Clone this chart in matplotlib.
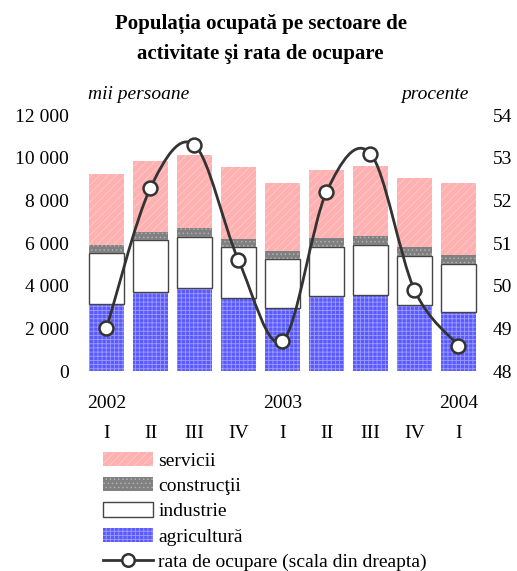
import matplotlib
matplotlib.use("Agg")
import matplotlib.pyplot as plt
from matplotlib.patches import Patch
from matplotlib.lines import Line2D
from matplotlib.path import Path
from matplotlib.patches import PathPatch
from matplotlib.ticker import FuncFormatter

plt.rcParams["font.family"] = ["Liberation Serif", "DejaVu Serif"]
plt.rcParams["hatch.linewidth"] = 0.6

# data (mii persoane, procente)
quarters = ["I", "II", "III", "IV", "I", "II", "III", "IV", "I"]
years = {0: "2002", 4: "2003", 8: "2004"}
agricultura = [3140, 3690, 3880, 3420, 2940, 3530, 3580, 3080, 2780]
industrie = [2390, 2440, 2390, 2380, 2330, 2270, 2330, 2330, 2250]
constructii = [380, 390, 430, 390, 360, 430, 420, 400, 410]
servicii = [3320, 3320, 3430, 3370, 3180, 3190, 3300, 3240, 3370]
rata = [49.0, 52.3, 53.3, 50.6, 48.7, 52.2, 53.1, 49.9, 48.6]

PINK = "#ffb0b0"
PINK_H = "#ffcccc"
GREY = "#808080"
GREY_H = "#b0b0b0"
BLUE = "#5a5aff"
BLUE_H = "#9c9cff"
LINE = "#333333"

H_AGR = "++++"
H_CON = "...."
H_SER = "////"


def fmt_thousands(x, pos):
    return f"{int(x):,}".replace(",", " ")


def smooth_path(xs, ys):
    # bezier like excel "smoothed line"
    verts = [(xs[0], ys[0])]
    codes = [Path.MOVETO]
    n = len(xs)
    for i in range(n - 1):
        x0, y0 = (xs[i - 1], ys[i - 1]) if i > 0 else (xs[i], ys[i])
        x1, y1 = xs[i], ys[i]
        x2, y2 = xs[i + 1], ys[i + 1]
        x3, y3 = (xs[i + 2], ys[i + 2]) if i + 2 < n else (x2, y2)
        c1 = (x1 + (x2 - x0) / 6, y1 + (y2 - y0) / 6)
        c2 = (x2 - (x3 - x1) / 6, y2 - (y3 - y1) / 6)
        verts += [c1, c2, (x2, y2)]
        codes += [Path.CURVE4] * 3
    return Path(verts, codes)


fig = plt.figure(figsize=(5.17, 5.71), dpi=100)
ax = fig.add_axes([0.1634, 0.350, 0.766, 0.4483])
ax2 = ax.twinx()

x = list(range(len(quarters)))
w = 0.8
b1 = agricultura
b2 = [a + b for a, b in zip(b1, industrie)]
b3 = [a + b for a, b in zip(b2, constructii)]

ax.bar(x, agricultura, w, color=BLUE, edgecolor=BLUE_H, hatch=H_AGR, linewidth=0)
ax.bar(x, industrie, w, bottom=b1, color="white", edgecolor="#444444", linewidth=1.0)
ax.bar(x, constructii, w, bottom=b2, color=GREY, edgecolor=GREY_H, hatch=H_CON, linewidth=0)
ax.bar(x, servicii, w, bottom=b3, color=PINK, edgecolor=PINK_H, hatch=H_SER, linewidth=0)

ax.set_xlim(-0.5, len(quarters) - 0.5)
ax.set_ylim(0, 12000)
ax.set_yticks(range(0, 12001, 2000))
ax.yaxis.set_major_formatter(FuncFormatter(fmt_thousands))
ax.set_xticks([])

ax2.add_patch(PathPatch(smooth_path(x, rata), facecolor="none", edgecolor=LINE, linewidth=2.0))
ax2.plot(x, rata, linestyle="none", marker="o", markersize=10,
         markerfacecolor="white", markeredgecolor=LINE, markeredgewidth=1.8)
ax2.set_ylim(48, 54)
ax2.set_yticks(range(48, 55))

for a in (ax, ax2):
    for s in a.spines.values():
        s.set_visible(False)
    a.tick_params(length=0, labelsize=14)
ax.tick_params(axis="y", pad=11)
ax2.tick_params(axis="y", pad=9)

# x labels
for i, q in enumerate(quarters):
    ax.text(i, -0.245, q, transform=ax.get_xaxis_transform(), ha="center", va="center", fontsize=14)
for i, yr in years.items():
    ax.text(i, -0.125, yr, transform=ax.get_xaxis_transform(), ha="center", va="center", fontsize=14)

ax.text(0.008, 1.08, "mii persoane", transform=ax.transAxes, fontstyle="italic", fontsize=14,
        family="Liberation Serif", ha="left", va="center")
ax.text(0.97, 1.08, "procente", transform=ax.transAxes, fontstyle="italic", fontsize=14,
        family="Liberation Serif", ha="right", va="center")

fig.text(0.504, 0.975, "Populația ocupată pe sectoare de\nactivitate şi rata de ocupare",
         ha="center", va="top", fontsize=15, fontweight="bold", linespacing=1.62)

handles = [
    Patch(facecolor=PINK, edgecolor=PINK_H, hatch=H_SER, linewidth=0),
    Patch(facecolor=GREY, edgecolor=GREY_H, hatch=H_CON, linewidth=0),
    Patch(facecolor="white", edgecolor="#444444", linewidth=1.0),
    Patch(facecolor=BLUE, edgecolor=BLUE_H, hatch=H_AGR, linewidth=0),
    Line2D([], [], color=LINE, linewidth=2.0, marker="o", markersize=9,
           markerfacecolor="white", markeredgecolor=LINE, markeredgewidth=1.8),
]
labels = ["servicii", "construcţii", "industrie", "agricultură", "rata de ocupare (scala din dreapta)"]
fig.legend(handles, labels, loc="upper left", bbox_to_anchor=(0.199, 0.209), frameon=False,
           fontsize=14, handlelength=2.6, handleheight=0.75, handletextpad=0.25,
           labelspacing=0.385, borderpad=0, borderaxespad=0)

plt.savefig("out.png", dpi=100)
